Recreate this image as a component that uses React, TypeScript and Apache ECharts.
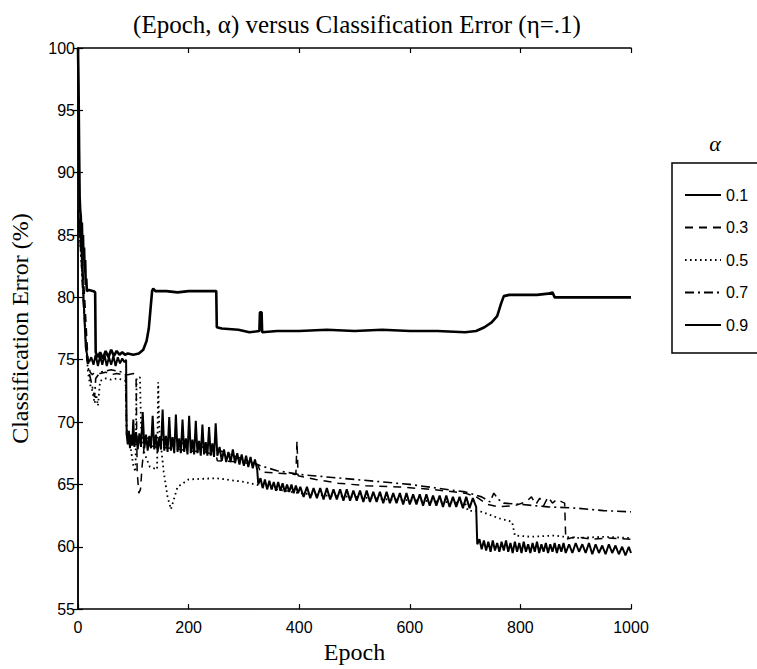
import React, { useEffect, useRef } from "react";
import * as echarts from "echarts";

const alphaLabels = ["0.1", "0.3", "0.5", "0.7", "0.9"];
const xTicks = [0, 200, 400, 600, 800, 1000];
const yTicks = [55, 60, 65, 70, 75, 80, 85, 90, 95, 100];

// alpha = 0.1 (thin solid, noisy band)
const series01: number[][] = [
  [0, 87], [2, 86], [4, 85], [6, 84], [8, 82], [10, 80], [12, 78], [14, 76], [16, 75.5], [18, 75],
  [20, 74.8], [24, 75.2], [28, 74.6], [32, 75.4], [36, 74.5], [40, 75.3], [44, 74.6], [48, 75.4],
  [52, 74.5], [56, 75.2], [60, 74.6], [64, 75.3], [68, 74.5], [72, 75.2], [76, 74.7], [80, 75.1],
  [84, 74.8], [87, 75.0], [88, 69.0], [90, 68.2], [92, 69.3], [94, 67.9], [96, 69.0], [98, 68.1],
  [100, 70.2], [102, 68.0], [105, 69.2], [108, 67.8], [111, 69.1], [114, 68.0], [117, 70.8],
  [120, 67.9], [123, 69.0], [126, 67.7], [129, 68.9], [132, 67.9], [135, 70.5], [138, 67.8],
  [141, 69.0], [144, 67.6], [147, 68.8], [150, 67.8], [153, 71.0], [156, 67.7], [159, 68.9],
  [162, 67.6], [165, 70.4], [168, 67.7], [171, 68.8], [174, 67.5], [177, 70.6], [180, 67.6],
  [183, 68.7], [186, 67.5], [189, 70.2], [192, 67.6], [195, 68.7], [198, 67.4], [201, 70.5],
  [204, 67.5], [207, 68.6], [210, 67.4], [213, 70.1], [216, 67.5], [219, 68.5], [222, 67.3],
  [225, 69.8], [228, 67.4], [231, 68.4], [234, 67.3], [237, 69.6], [240, 67.3], [243, 68.3],
  [246, 67.2], [249, 69.9], [252, 67.3], [256, 68.0], [260, 66.9], [264, 67.8], [268, 66.8],
  [272, 67.6], [276, 66.8], [280, 67.8], [284, 66.7], [288, 67.5], [292, 66.6], [296, 67.4],
  [300, 66.5], [304, 67.3], [308, 66.4], [312, 67.2], [316, 66.3], [320, 67.0], [324, 66.2],
  [326, 65.0], [330, 65.5], [334, 64.7], [338, 65.4], [342, 64.6], [346, 65.3], [350, 64.6],
  [354, 65.2], [358, 64.5], [362, 65.2], [366, 64.5], [370, 65.1], [374, 64.4], [378, 65.0],
  [382, 64.4], [386, 65.0], [390, 64.3], [394, 64.9], [398, 64.3], [402, 64.8], [408, 64.0],
  [414, 64.8], [420, 63.9], [426, 64.7], [432, 63.9], [438, 64.7], [444, 63.8], [450, 64.7],
  [456, 63.8], [462, 64.6], [468, 63.8], [474, 64.6], [480, 63.7], [486, 64.6], [492, 63.7],
  [498, 64.5], [504, 63.7], [510, 64.5], [516, 63.6], [522, 64.5], [528, 63.6], [534, 64.4],
  [540, 63.6], [546, 64.4], [552, 63.5], [558, 64.4], [564, 63.5], [570, 64.3], [576, 63.5],
  [582, 64.3], [588, 63.4], [594, 64.3], [600, 63.4], [606, 64.2], [612, 63.4], [618, 64.2],
  [624, 63.3], [630, 64.2], [636, 63.3], [642, 64.1], [648, 63.3], [654, 64.1], [660, 63.2],
  [666, 64.1], [672, 63.2], [678, 64.0], [684, 63.2], [690, 64.0], [696, 63.1], [702, 64.0],
  [708, 63.1], [714, 63.9], [720, 63.2], [722, 60.2], [726, 60.6], [730, 59.8], [734, 60.5],
  [738, 59.7], [742, 60.4], [746, 59.6], [750, 60.5], [754, 59.7], [758, 60.3], [762, 59.6],
  [766, 60.4], [770, 59.7], [774, 60.5], [778, 59.6], [782, 60.3], [786, 59.5], [790, 60.4],
  [794, 59.6], [798, 60.3], [802, 59.5], [806, 60.4], [810, 59.6], [814, 60.2], [818, 59.5],
  [822, 60.3], [826, 59.6], [830, 60.4], [834, 59.5], [838, 60.2], [842, 59.6], [846, 60.3],
  [850, 59.5], [854, 60.2], [858, 59.6], [862, 60.3], [866, 59.5], [870, 60.2], [874, 59.6],
  [878, 60.3], [882, 59.5], [888, 60.2], [894, 59.5], [900, 60.3], [906, 59.6], [912, 60.2],
  [918, 59.5], [924, 60.3], [930, 59.4], [936, 60.2], [942, 59.5], [948, 60.1], [954, 59.4],
  [960, 60.2], [966, 59.5], [972, 60.1], [978, 59.4], [984, 60.0], [990, 59.3], [996, 60.0],
  [1000, 59.5],
];

// alpha = 0.3 (dashed)
const series03: number[][] = [
  [0, 86.5], [3, 85.5], [6, 84], [9, 82], [12, 80], [15, 77.5], [18, 75], [22, 74], [26, 73.8],
  [30, 74], [40, 73.9], [50, 74], [60, 73.8], [70, 73.9], [80, 73.8], [90, 73.8], [100, 73.9],
  [105, 73.7], [107, 66], [110, 64.3], [113, 64.6], [116, 66.5], [120, 68.2], [140, 68.0],
  [170, 67.9], [200, 67.7], [230, 67.6], [250, 67.3], [252, 66.9], [290, 66.8], [325, 66.6],
  [330, 66.0], [360, 65.9], [394, 65.8], [396, 68.5], [398, 65.7], [430, 65.4], [470, 65.1],
  [520, 64.9], [580, 64.8], [640, 64.6], [700, 64.3], [720, 64.0], [740, 63.4], [760, 63.2],
  [790, 63.3], [810, 63.6], [820, 64.0], [828, 63.4], [835, 63.9], [842, 63.3], [850, 64.0],
  [858, 63.5], [866, 63.8], [875, 63.6], [880, 63.5], [882, 60.6], [900, 60.8], [930, 60.6],
  [960, 60.7], [1000, 60.6],
];

// alpha = 0.5 (dotted)
const series05: number[][] = [
  [0, 87], [3, 85], [6, 83], [10, 80], [14, 77], [18, 74], [22, 73], [26, 72.5], [30, 71.5],
  [33, 72.2], [36, 71.3], [40, 73.3], [50, 73.5], [60, 73.4], [70, 73.5], [80, 73.4], [86, 73.3],
  [88, 69.5], [95, 68], [100, 66.5], [104, 66], [106, 73.5], [112, 73.6], [114, 69.6], [120, 67.5],
  [130, 66.4], [143, 66.2], [145, 73.2], [147, 69.4], [155, 66.0], [162, 64], [168, 63],
  [172, 63.6], [180, 64.8], [200, 65.4], [250, 65.5], [300, 65.2], [330, 64.9], [360, 64.6],
  [400, 64.3], [450, 64.1], [500, 64.0], [560, 63.8], [620, 63.7], [700, 63.5], [705, 62.9],
  [730, 62.8], [760, 62.3], [785, 62.0], [790, 60.9], [820, 60.8], [860, 60.9], [900, 60.7],
  [950, 60.8], [1000, 60.7],
];

// alpha = 0.7 (dash-dot)
const series07: number[][] = [
  [0, 86], [3, 85], [6, 83], [9, 80], [12, 78], [16, 75], [20, 74], [25, 73], [30, 72],
  [32, 73.5], [40, 74], [60, 74.2], [80, 74], [86, 73.8], [88, 69], [100, 68.8], [150, 68.6],
  [200, 68.2], [250, 67.8], [300, 67], [330, 66.5], [360, 66.1], [400, 65.8], [450, 65.6],
  [500, 65.4], [550, 65.2], [600, 65.0], [650, 64.7], [700, 64.4], [730, 64.0], [745, 63.6],
  [752, 64.3], [760, 63.8], [770, 63.5], [800, 63.4], [850, 63.2], [900, 63.1], [950, 62.9],
  [1000, 62.8],
];

// alpha = 0.9 (thick solid)
const series09: number[][] = [
  [0, 100], [1, 97], [2, 92], [3, 88], [4, 87], [5, 86.5], [6, 85], [7, 86], [8, 84], [9, 85],
  [10, 83], [11, 84], [12, 82], [13, 83], [14, 81], [15, 81.5], [16, 80.5], [20, 80.6],
  [28, 80.5], [31, 80.4], [32, 75.6], [36, 75.2], [40, 75.6], [45, 75.1], [50, 75.7], [55, 75.2],
  [60, 75.8], [65, 75.3], [70, 75.7], [75, 75.4], [80, 75.6], [85, 75.4], [90, 75.5],
  [100, 75.4], [110, 75.5], [118, 75.8], [124, 76.5], [128, 77.5], [131, 79], [134, 80.5],
  [136, 80.7], [140, 80.5], [160, 80.5], [180, 80.4], [200, 80.5], [230, 80.5], [250, 80.5],
  [251, 77.6], [260, 77.5], [290, 77.4], [310, 77.2], [328, 77.3], [329, 78.8], [332, 78.8],
  [333, 77.2], [360, 77.3], [400, 77.3], [450, 77.4], [500, 77.3], [550, 77.4], [600, 77.3],
  [650, 77.3], [700, 77.2], [720, 77.3], [735, 77.6], [748, 78.0], [758, 78.5], [765, 79.5],
  [770, 80.1], [780, 80.2], [800, 80.2], [830, 80.2], [850, 80.3], [858, 80.4], [862, 80.0],
  [880, 80.0], [920, 80.0], [960, 80.0], [1000, 80.0],
];

const seriesData = [series01, series03, series05, series07, series09];
const lineTypes: any[] = ["solid", [8, 6], [1.6, 3.4], [9, 4, 2, 4], "solid"];
const lineWidths = [2.0, 1.5, 1.8, 1.6, 2.6];

const SERIF = "'Liberation Serif', 'DejaVu Serif', serif";
const SANS = "'Liberation Sans', Arial, sans-serif";

export default function App() {
  const ref = useRef<HTMLDivElement>(null);
  useEffect(() => {
    if (!ref.current) return;
    const chart = echarts.init(ref.current, undefined, { renderer: "svg" });
    const grid = { left: 74, top: 48, width: 557, height: 567 };
    const axisLine = { show: true, lineStyle: { color: "#000", width: 1.5 } };
    const axisTick = { show: true, inside: true, length: 5, lineStyle: { color: "#000", width: 1.2 } };
    chart.setOption({
      animation: false,
      backgroundColor: "#fff",
      title: {
        text: "(Epoch, α) versus Classification Error (η=.1)",
        left: 352,
        textAlign: "center",
        top: 7,
        textStyle: { fontFamily: SERIF, fontSize: 25, fontWeight: "normal", color: "#000" },
      },
      grid,
      legend: {
        orient: "vertical",
        left: 679,
        top: 182,
        itemWidth: 36,
        itemHeight: 14,
        itemGap: 16.5,
        data: alphaLabels,
        itemStyle: { opacity: 0 },
        textStyle: { fontFamily: SANS, fontSize: 16, color: "#000" },
      },
      xAxis: [
        {
          type: "value",
          min: 0,
          max: 1000,
          interval: 200,
          name: "Epoch",
          nameLocation: "middle",
          nameGap: 28,
          nameTextStyle: { fontFamily: SERIF, fontSize: 24, color: "#000" },
          axisLine,
          axisTick,
          splitLine: { show: false },
          axisLabel: {
            color: "#000",
            fontFamily: SANS,
            fontSize: 16,
            margin: 10,
            formatter: (v: number) => String(v),
          },
        },
        {
          type: "value",
          position: "top",
          min: 0,
          max: 1000,
          interval: 200,
          axisLine,
          axisTick,
          axisLabel: { show: false },
          splitLine: { show: false },
        },
      ],
      yAxis: [
        {
          type: "value",
          min: 55,
          max: 100,
          interval: 5,
          name: "Classification Error (%)",
          nameLocation: "middle",
          nameGap: 46,
          nameTextStyle: { fontFamily: SERIF, fontSize: 24, color: "#000" },
          axisLine,
          axisTick,
          splitLine: { show: false },
          axisLabel: { color: "#000", fontFamily: SANS, fontSize: 16, margin: 3, formatter: (v: number) => String(v) },
        },
        {
          type: "value",
          position: "right",
          min: 55,
          max: 100,
          interval: 5,
          axisLine,
          axisTick,
          axisLabel: { show: false },
          splitLine: { show: false },
        },
      ],
      graphic: [
        {
          type: "rect",
          shape: { x: 672, y: 163, width: 100, height: 190 },
          style: { fill: "none", stroke: "#000", lineWidth: 1.5 },
        },
        {
          type: "text",
          x: 715,
          y: 143,
          style: {
            text: "α",
            font: "italic 22px " + SERIF,
            fill: "#000",
            textAlign: "center",
            textVerticalAlign: "middle",
          },
        },
      ],
      series: alphaLabels.map((name, i) => ({
        name,
        type: "line",
        data: seriesData[i],
        showSymbol: false,
        symbol: "none",
        clip: true,
        lineStyle: { color: "#000", width: lineWidths[i], type: lineTypes[i] },
        itemStyle: { color: "#000" },
        z: i === 4 ? 5 : 3,
      })),
    });
    return () => chart.dispose();
  }, []);
  return <div ref={ref} style={{ width: 757, height: 669, position: "absolute", left: 0, top: 0 }} />;
}
